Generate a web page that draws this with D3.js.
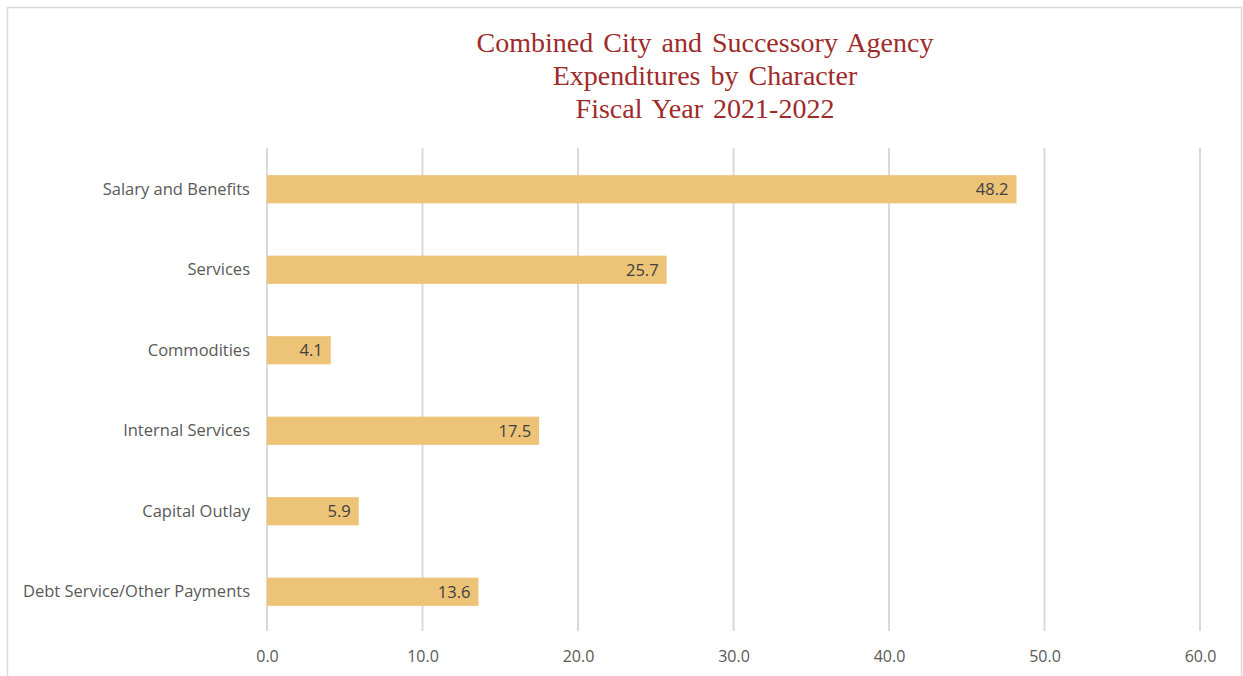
<!DOCTYPE html>
<html><head><meta charset="utf-8">
<script src="https://cdn.jsdelivr.net/npm/d3@7"></script>
<style>html,body{margin:0;padding:0;background:#fff;}svg{display:block;}</style>
</head><body>
<svg id="c" width="1243" height="676"></svg>
<script>
const categories = ["Salary and Benefits","Services","Commodities","Internal Services","Capital Outlay","Debt Service/Other Payments"];
const values = [48.2, 25.7, 4.1, 17.5, 5.9, 13.6];
const tickValues = [0,10,20,30,40,50,60];
const titleLines = ["Combined City and Successory Agency","Expenditures by Character","Fiscal Year 2021-2022"];

const svg = d3.select("#c");
svg.append("rect").attr("x",7.5).attr("y",7.5).attr("width",1234).attr("height",700)
  .attr("fill","#fff").attr("stroke","#d9d9d9").attr("stroke-width",1.5);

const x = d3.scaleLinear().domain([0,60]).range([267,1200]);
const y = d3.scaleBand().domain(categories).range([149,632]).paddingInner(0.65).paddingOuter(0.325);

const font = "'Open Sans', 'Liberation Sans', sans-serif";

// gridlines
svg.append("g").selectAll("line").data(tickValues).join("line")
  .attr("x1",d=>x(d)).attr("x2",d=>x(d)).attr("y1",148).attr("y2",631)
  .attr("stroke","#d9d9d9").attr("stroke-width",2);

// x axis labels
const xAxis = d3.axisBottom(x).tickValues(tickValues).tickFormat(d3.format(".1f")).tickSize(0).tickPadding(0);
const gx = svg.append("g").attr("transform","translate(0,651)").call(xAxis);
gx.select(".domain").remove();
gx.selectAll("text").attr("font-family",font).attr("font-size",16).attr("fill","#595959").attr("dy","0.71em");

// y axis labels
const yAxis = d3.axisLeft(y).tickSize(0).tickPadding(17);
const gy = svg.append("g").attr("transform","translate(267,0)").call(yAxis);
gy.select(".domain").remove();
gy.selectAll("text").attr("font-family",font).attr("font-size",16.5).attr("fill","#595959");

// bars
svg.append("g").selectAll("rect").data(categories).join("rect")
  .attr("x",x(0)).attr("y",d=>y(d)).attr("height",y.bandwidth())
  .attr("width",(d,i)=>x(values[i])-x(0)).attr("fill","#edc377");

// value labels
svg.append("g").selectAll("text").data(categories).join("text")
  .attr("x",(d,i)=>x(values[i])-8).attr("y",d=>y(d)+y.bandwidth()/2).attr("dy","0.36em")
  .attr("text-anchor","end").attr("font-family",font).attr("font-size",16.5).attr("fill","#404040")
  .text((d,i)=>values[i].toFixed(1));

// title
svg.append("g").selectAll("text").data(titleLines).join("text")
  .attr("x",705).attr("y",(d,i)=>52+i*33).attr("text-anchor","middle")
  .attr("font-family","'Liberation Serif', 'Times New Roman', serif").attr("font-size",28)
  .attr("fill","#9e2b2b").attr("word-spacing","3px").text(d=>d);
</script>
</body></html>
